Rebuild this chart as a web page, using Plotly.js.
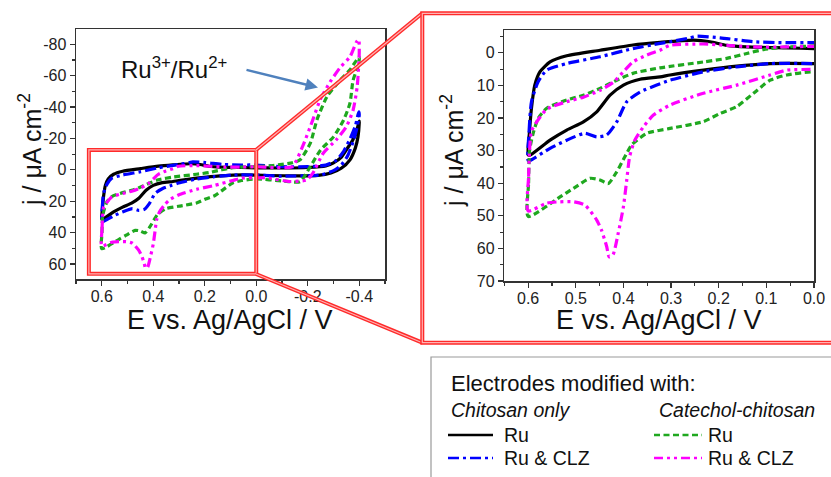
<!DOCTYPE html>
<html><head><meta charset="utf-8">
<script src="https://cdn.plot.ly/plotly-3.0.1.min.js"></script>
<style>html,body{margin:0;padding:0;background:#fff;}#chart{width:831px;height:477px;}</style>
</head><body><div id="chart"></div>
<script>
// ---- data (E in V vs Ag/AgCl, j in µA cm^-2) ----
const eRuChit = [0.600,0.597,0.593,0.586,0.575,0.554,0.519,0.449,0.380,0.323,0.253,0.218,0.183,0.141,0.057,0.000,-0.100,-0.200,-0.270,-0.300,-0.330,-0.355,-0.375,-0.390,-0.400,
  -0.400,-0.395,-0.385,-0.364,-0.330,-0.290,-0.240,-0.170,-0.050,0.000,0.092,0.162,0.232,0.302,0.323,0.365,0.400,0.428,0.456,0.484,0.519,0.554,0.596,0.600];
const jRuChit = [31.3,24,17,9.9,5.8,2.8,0.9,-0.8,-2.4,-3.2,-3.9,-3.4,-2.3,-1.8,-1.5,-1.3,-1.2,-1.5,-2.5,-4.5,-8,-14,-19,-25,-31,
  -30,-21,-14,-6.4,-1,2,3.5,3.8,3.6,3.3,3.3,4.1,5.3,6.8,7.4,8.1,9.9,13.0,18.1,21.2,23.7,26.8,31.4,31.3];

const eRuClzChit = [0.600,0.598,0.593,0.579,0.561,0.519,0.449,0.380,0.323,0.302,0.260,0.247,0.197,0.127,0.057,0.000,-0.100,-0.200,-0.270,-0.310,-0.340,-0.365,-0.385,-0.398,
  -0.400,-0.390,-0.376,-0.355,-0.330,-0.300,-0.250,-0.100,0.000,0.092,0.162,0.232,0.302,0.330,0.365,0.393,0.414,0.435,0.456,0.481,0.519,0.554,0.596,0.600];
const jRuClzChit = [33,24,15,8.9,5.3,3.3,1.2,-1.3,-2.9,-3.4,-4.6,-5.1,-4.6,-3.4,-3.1,-3.1,-2.0,-2.0,-3,-6,-12,-20,-28,-37,
  -35,-26,-18,-9,-3,0.5,3.2,4.0,3.3,3.3,4.3,5.8,8.4,9.9,12,15,21.2,25.2,25.8,24.7,26.8,29.3,33,33];

const eRuCat = [0.600,0.599,0.597,0.590,0.579,0.561,0.519,0.484,0.449,0.414,0.380,0.323,0.232,0.183,0.141,0.106,0.057,0.000,-0.050,-0.100,-0.140,-0.170,-0.210,-0.236,-0.275,-0.325,-0.364,-0.390,-0.400,
  -0.400,-0.395,-0.376,-0.364,-0.340,-0.300,-0.250,-0.210,-0.170,-0.100,0.000,0.057,0.092,0.127,0.162,0.197,0.232,0.302,0.351,0.383,0.397,0.414,0.432,0.449,0.470,0.505,0.533,0.600];
const jRuCat = [50.2,40,30,25,20.1,17,14.5,13,10.9,8.4,6.3,4.6,2.8,1.7,0.2,-1.0,-1.8,-2.1,-2.5,-3.5,-4.5,-6.4,-17,-32,-46.7,-57,-63.7,-70,-72,
  -70,-66,-57,-42.5,-32,-21,-12.7,-2.1,7.5,7,5.8,6.8,8.4,12.4,16.5,18.6,21.1,23.2,24.7,28.3,31.9,36.5,40.1,39,38.5,41.6,44.2,50.2];

const eRuClzCat = [0.600,0.599,0.597,0.593,0.582,0.561,0.519,0.484,0.449,0.420,0.400,0.380,0.351,0.323,0.302,0.232,0.183,0.127,0.057,0.000,-0.070,-0.140,-0.180,-0.220,-0.248,-0.287,-0.325,-0.364,-0.390,-0.398,
  -0.400,-0.392,-0.376,-0.350,-0.310,-0.260,-0.220,-0.196,-0.130,-0.040,0.000,0.057,0.092,0.162,0.232,0.302,0.337,0.358,0.376,0.387,0.393,0.400,0.411,0.422,0.430,0.435,0.446,0.456,0.481,0.505,0.533,0.561,0.600];
const jRuClzCat = [48.5,38,30,24,21.2,17.3,15,13.6,11.5,8.9,5.8,2.8,0.7,-0.8,-2.3,-2.7,-2.3,-1.8,-1.8,-2.0,-1.5,-2.1,-14.9,-32,-44.6,-56,-65,-72,-81.7,-83,
  -74.5,-53,-38,-27.6,-19,-10.6,2.1,6.4,7.4,5,5.1,5.3,6.8,9.9,12.4,16,19.1,22.7,26.8,31.9,39,47.2,55.4,62,62.6,59.5,54.4,51.3,46.7,45.7,45.7,46.1,48.5];

const seriesLabels = ['Ru','Ru & CLZ','Ru','Ru & CLZ'];
const groupLabels = ['Chitosan only','Catechol-chitosan'];

const leftXTicks = [0.6,0.4,0.2,0.0,-0.2,-0.4];
const leftXText = ['0.6','0.4','0.2','0.0','-0.2','-0.4'];
const leftYTicks = [-80,-60,-40,-20,0,20,40,60];
const leftYText = ['-80','-60','-40','-20','0','20','40','60'];
const rightXTicks = [0.6,0.5,0.4,0.3,0.2,0.1,0.0];
const rightXText = ['0.6','0.5','0.4','0.3','0.2','0.1','0.0'];
const rightYTicks = [0,10,20,30,40,50,60,70];
const rightYText = ['0','10','20','30','40','50','60','70'];

// ---- styling ----
const W = 831, H = 477;
const px = v => v / W, py = v => 1 - v / H;
const FONT = 'Liberation Sans, Arial, sans-serif';
const styles = [
  {color:'#000000', dash:'solid', width:3.2},
  {color:'#0000ff', dash:'11px,4px,3px,4px', width:3.2},
  {color:'#1fa81f', dash:'6px,3.5px', width:3.2},
  {color:'#ff00ff', dash:'9px,4px,3px,4px,3px,4px', width:3.2}
];
const seriesData = [[eRuChit,jRuChit],[eRuClzChit,jRuClzChit],[eRuCat,jRuCat],[eRuClzCat,jRuClzCat]];

const traces = [];
seriesData.forEach((d,i)=>{
  ['x','x2'].forEach((xa,k)=>{
    traces.push({type:'scatter',mode:'lines',x:d[0],y:d[1],xaxis:xa,yaxis:k?'y2':'y',
      name:seriesLabels[i],showlegend:false,hoverinfo:'skip',
      line:{color:styles[i].color,dash:styles[i].dash,width:styles[i].width,shape:'spline',smoothing:0.6}});
  });
});

const tickFont = {family:FONT,size:16,color:'#222'};
function mainAxis(extra){
  return Object.assign({showgrid:false,zeroline:false,showline:true,mirror:true,linecolor:'#333',linewidth:1.5,
    ticks:'outside',ticklen:5,tickwidth:1.2,tickcolor:'#333',tickfont:tickFont,tickmode:'array',fixedrange:true},extra);
}
function mirrorAxis(extra){
  return Object.assign({showgrid:false,zeroline:false,showline:false,ticks:'inside',ticklen:5,tickwidth:1.2,tickcolor:'#333',
    showticklabels:false,tickmode:'array',fixedrange:true},extra);
}
const L = {xd:[px(76),px(385)], yd:[py(279),py(29)], xr:[0.7,-0.5], yr:[69.5,-89.7]};
const R = {xd:[px(504.3),px(814)], yd:[py(281),py(30)], xr:[0.65,0.0], yr:[70,-7]};
const mnX1 = {tickmode:'linear',tick0:0,dtick:0.1,ticklen:3,tickcolor:'#333'};
const mnY1 = {tickmode:'linear',tick0:0,dtick:10,ticklen:3,tickcolor:'#333'};
const mnX2 = {tickmode:'linear',tick0:0,dtick:0.05,ticklen:3,tickcolor:'#333'};
const mnY2 = {tickmode:'linear',tick0:0,dtick:5,ticklen:3,tickcolor:'#333'};

const redOuter = {color:'#ff2a2a',width:4};
const redInner = {color:'#ffb3b3',width:1.2};
function dbl(shape){
  return [Object.assign({},shape,{line:redOuter}), Object.assign({},shape,{line:redInner})];
}
const shapes = [].concat(
  dbl({type:'rect',xref:'x',yref:'y',x0:0.65,x1:0.0,y0:-12.7,y1:66.2}),
  dbl({type:'line',xref:'paper',yref:'paper',x0:px(256),y0:py(150),x1:px(422.3),y1:py(13.3)}),
  dbl({type:'line',xref:'paper',yref:'paper',x0:px(256),y0:py(274),x1:px(422.3),y1:py(342.7)}),
  dbl({type:'rect',xref:'paper',yref:'paper',x0:px(422.3),x1:px(840),y0:py(342.7),y1:py(13.3)}),
  [{type:'rect',xref:'paper',yref:'paper',x0:px(431),x1:px(840),y0:py(490),y1:py(357),line:{color:'#9a9a9a',width:1.2},fillcolor:'rgba(0,0,0,0)'}]
);
// legend line samples
const legendRows = [[448,493,435],[448,493,458],[654,702,435],[654,702,458]];
legendRows.forEach((r,i)=>{
  shapes.push({type:'line',xref:'paper',yref:'paper',x0:px(r[0]),x1:px(r[1]),y0:py(r[2]),y1:py(r[2]),
    line:{color:styles[i].color,dash:styles[i].dash,width:2.5}});
});

const txt = (s,x,y,size,extra)=>Object.assign({text:s,xref:'paper',yref:'paper',x:px(x),y:py(y),showarrow:false,
  xanchor:'left',yanchor:'middle',font:{family:FONT,size:size,color:'#111'}},extra||{});
const annotations = [
  txt('j / \u03bcA cm<sup>-2</sup>',30,150,25,{textangle:-90,xanchor:'center'}),
  txt('j / \u03bcA cm<sup>-2</sup>',452,151,25,{textangle:-90,xanchor:'center'}),
  txt('E vs. Ag/AgCl / V',230,320,27,{xanchor:'center'}),
  txt('E vs. Ag/AgCl / V',659,320,27,{xanchor:'center'}),
  txt('Ru<sup>3+</sup>/Ru<sup>2+</sup>',119,68,24),
  {text:'',xref:'paper',yref:'paper',x:px(318),y:py(87.5),ax:-73,ay:-18,showarrow:true,arrowhead:2,arrowsize:1,arrowwidth:2.5,arrowcolor:'#4f81bd'},
  txt('Electrodes modified with:',449,383,22),
  txt('<i>'+groupLabels[0]+'</i>',449,410,19.5),
  txt('<i>'+groupLabels[1]+'</i>',657,410,19.5),
  txt(seriesLabels[0],502,435,19.5),
  txt(seriesLabels[1],502,458,19.5),
  txt(seriesLabels[2],706,435,19.5),
  txt(seriesLabels[3],706,458,19.5)
];

const layout = {
  width:W,height:H,margin:{l:0,r:0,t:0,b:0},paper_bgcolor:'#fff',plot_bgcolor:'rgba(0,0,0,0)',showlegend:false,
  font:{family:FONT},
  xaxis: mainAxis({domain:L.xd,anchor:'y',range:L.xr,tickvals:leftXTicks,ticktext:leftXText,ticklabelstandoff:-3,minor:Object.assign({ticks:'outside'},mnX1)}),
  yaxis: mainAxis({domain:L.yd,anchor:'x',range:L.yr,tickvals:leftYTicks,ticktext:leftYText,minor:Object.assign({ticks:'outside'},mnY1)}),
  xaxis2: mainAxis({domain:R.xd,anchor:'y2',range:R.xr,tickvals:rightXTicks,ticktext:rightXText,ticklabelstandoff:-3,minor:Object.assign({ticks:'outside'},mnX2)}),
  yaxis2: mainAxis({domain:R.yd,anchor:'x2',range:R.yr,tickvals:rightYTicks,ticktext:rightYText,minor:Object.assign({ticks:'outside'},mnY2)}),
  xaxis3: mirrorAxis({overlaying:'x',side:'top',anchor:'y',range:L.xr,tickvals:leftXTicks,minor:Object.assign({ticks:'inside'},mnX1)}),
  yaxis3: mirrorAxis({overlaying:'y',side:'right',anchor:'x',range:L.yr,tickvals:leftYTicks,minor:Object.assign({ticks:'inside'},mnY1)}),
  xaxis4: mirrorAxis({overlaying:'x2',side:'top',anchor:'y2',range:R.xr,tickvals:rightXTicks,minor:Object.assign({ticks:'inside'},mnX2)}),
  yaxis4: mirrorAxis({overlaying:'y2',side:'right',anchor:'x2',range:R.yr,tickvals:rightYTicks,minor:Object.assign({ticks:'inside'},mnY2)}),
  shapes:shapes,annotations:annotations
};
Plotly.newPlot('chart',traces,layout,{staticPlot:true,displayModeBar:false});
</script></body></html>
